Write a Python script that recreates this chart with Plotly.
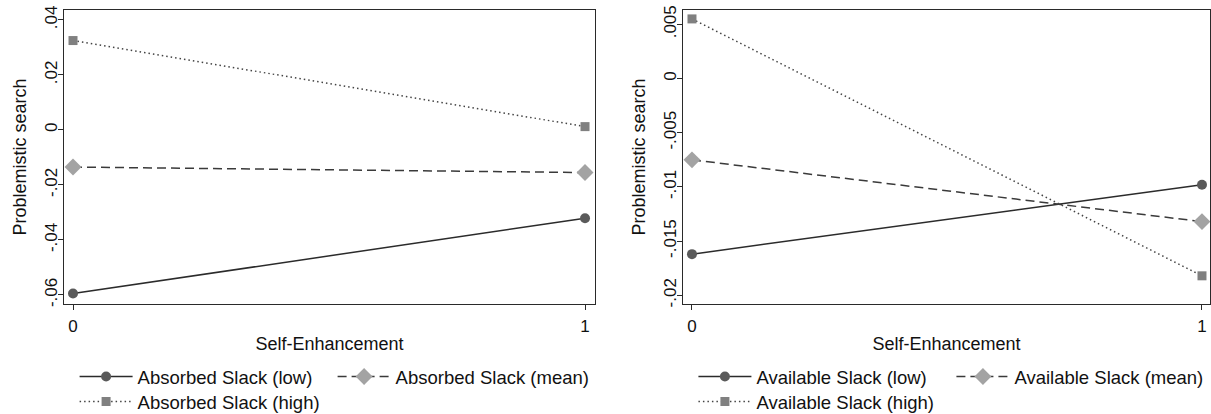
import plotly.graph_objects as go

x_vals = [0, 1]
absorbed_low = [-0.0595, -0.0321]
absorbed_mean = [-0.0135, -0.0155]
absorbed_high = [0.0325, 0.0012]
available_low = [-0.0162, -0.0098]
available_mean = [-0.0075, -0.0132]
available_high = [0.0055, -0.0182]

left_names = ["Absorbed Slack (low)", "Absorbed Slack (mean)", "Absorbed Slack (high)"]
right_names = ["Available Slack (low)", "Available Slack (mean)", "Available Slack (high)"]

left_yticks = [0.04, 0.02, 0, -0.02, -0.04, -0.06]
left_yticktext = [".04", ".02", "0", "-.02", "-.04", "-.06"]
right_yticks = [0.005, 0, -0.005, -0.01, -0.015, -0.02]
right_yticktext = [".005", "0", "-.005", "-.01", "-.015", "-.02"]

FONT = "Liberation Sans, Arial, sans-serif"

styles = [
    dict(line=dict(color="#2b2b2b", width=1.5, dash="solid"),
         marker=dict(symbol="circle", size=10, color="#5a5a5a")),
    dict(line=dict(color="#3a3a3a", width=1.5, dash="9px,5px"),
         marker=dict(symbol="diamond", size=13, color="#a3a3a3")),
    dict(line=dict(color="#444444", width=1.5, dash="1.5px,3px"),
         marker=dict(symbol="square", size=9, color="#808080")),
]
# legend assignment: row 1 holds low & mean, row 2 holds high
left_legends = ["legend", "legend", "legend3"]
right_legends = ["legend2", "legend2", "legend4"]

fig = go.Figure()
for series, name, st, lg in zip([absorbed_low, absorbed_mean, absorbed_high], left_names, styles, left_legends):
    fig.add_trace(go.Scatter(x=x_vals, y=series, mode="lines+markers", name=name,
                             xaxis="x", yaxis="y", legend=lg, **st))
for series, name, st, lg in zip([available_low, available_mean, available_high], right_names, styles, right_legends):
    fig.add_trace(go.Scatter(x=x_vals, y=series, mode="lines+markers", name=name,
                             xaxis="x2", yaxis="y2", legend=lg, **st))

axis_common = dict(showline=True, linecolor="#2a2a2a", linewidth=1.3, mirror=True,
                   ticks="outside", ticklen=5, tickcolor="#2a2a2a", showgrid=False,
                   zeroline=False, ticklabeloverflow="allow",
                   tickfont=dict(size=17, color="#111", family=FONT))

def legend_cfg(x, y):
    return dict(orientation="h", x=x, xanchor="left", y=y, yanchor="middle",
                entrywidth=190, entrywidthmode="pixels", itemwidth=53,
                font=dict(size=18.5, family=FONT, color="#111"),
                bgcolor="rgba(0,0,0,0)", tracegroupgap=0)

fig.update_layout(
    width=1211, height=414,
    margin=dict(l=0, r=0, t=0, b=0, autoexpand=False),
    paper_bgcolor="white", plot_bgcolor="white",
    font=dict(family=FONT, size=18, color="#111"),
    xaxis=dict(domain=[0.05285, 0.49133], range=[-0.0176, 1.0195], tickvals=[0, 1],
               ticktext=["0", "1"], ticklabelstandoff=1,
               title=dict(text="Self-Enhancement", standoff=2, font=dict(size=18)),
               anchor="y", **axis_common),
    yaxis=dict(domain=[0.2657, 0.9758], range=[-0.0633, 0.0436], tickvals=left_yticks,
               ticktext=left_yticktext, tickangle=-90, ticklabelstandoff=-6,
               title=dict(text="Problemistic search", standoff=10, font=dict(size=18)),
               anchor="x", **axis_common),
    xaxis2=dict(domain=[0.56400, 0.99917], range=[-0.0176, 1.0157], tickvals=[0, 1],
                ticktext=["0", "1"], ticklabelstandoff=1,
                title=dict(text="Self-Enhancement", standoff=2, font=dict(size=18)),
                anchor="y2", **axis_common),
    yaxis2=dict(domain=[0.2657, 0.9758], range=[-0.0208, 0.00632], tickvals=right_yticks,
                ticktext=right_yticktext, tickangle=-90, ticklabelstandoff=-6,
                title=dict(text="Problemistic search", standoff=10, font=dict(size=18)),
                anchor="x2", **axis_common),
    legend=legend_cfg(0.0616, 0.0894),
    legend2=legend_cfg(0.5726, 0.0894),
    legend3=legend_cfg(0.0616, 0.029),
    legend4=legend_cfg(0.5726, 0.029),
    showlegend=True,
)

# the page body has a default 8px margin; remove it so the figure sits at the window origin
fig.write_html("out.html", config={"displayModeBar": False},
               post_script="document.body.style.margin='0';")
